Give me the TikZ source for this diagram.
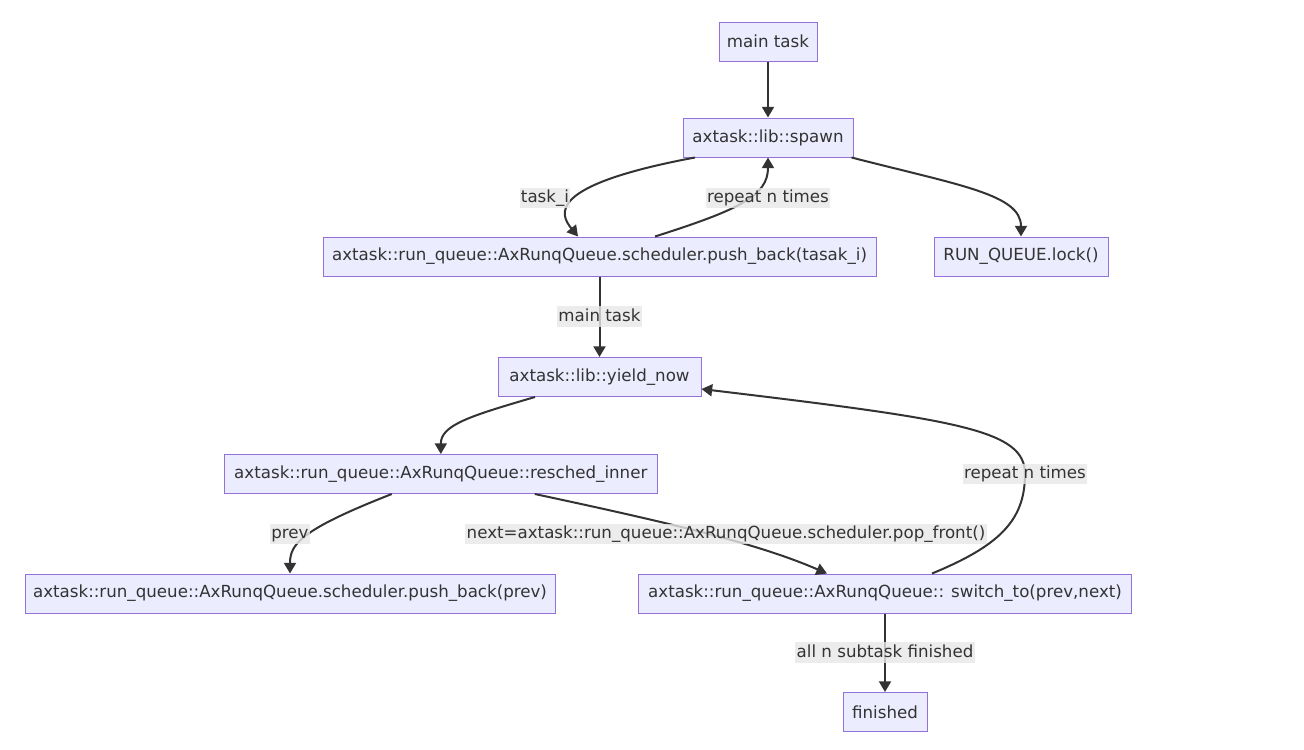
\documentclass[tikz,border=0pt]{standalone}
\usepackage{fontspec}
\setmainfont{DejaVu Sans}
\usetikzlibrary{arrows.meta,calc}
\definecolor{nodefill}{HTML}{ECECFF}
\definecolor{nodeline}{HTML}{9370DB}
\definecolor{ink}{HTML}{333333}
\definecolor{lblbg}{HTML}{E8E8E8}
\begin{document}
\begin{tikzpicture}[x=0.75pt,y=-0.75pt,
  txt/.style={font=\fontsize{12.5}{15}\selectfont},
  box/.style={txt,draw=nodeline,fill=nodefill,line width=0.75pt,text=ink,minimum height=29.25pt,inner sep=0pt},
  arr/.style={draw=ink,line width=1.5pt,-{Triangle[length=8pt,width=9pt]}},
  lbl/.style={txt,fill=lblbg,fill opacity=0.8,text opacity=1,text=ink,inner sep=1pt,text height=10pt,text depth=3.5pt}
]
\useasboundingbox (0,0) rectangle (1304,750);
\fill[white] (0,0) rectangle (1304,750);

\node[box,minimum width=73.5pt] (main) at (768,41.5) {main task};
\node[box,minimum width=127.5pt] (spawn) at (768,137.5) {axtask::lib::spawn};
\node[box,minimum width=414.75pt] (pushA) at (599.5,256.5) {axtask::run\_queue::AxRunqQueue.scheduler.push\_back(tasak\_i)};
\node[box,minimum width=130.5pt] (runq) at (1021,256.5) {RUN\_QUEUE.lock()};
\node[box,minimum width=152.25pt] (yield) at (599.5,377) {axtask::lib::yield\_now};
\node[box,minimum width=324.75pt] (resched) at (440.8,474) {axtask::run\_queue::AxRunqQueue::resched\_inner};
\node[box,minimum width=397.5pt] (pushB) at (290,593.5) {axtask::run\_queue::AxRunqQueue.scheduler.push\_back(prev)};
\node[box,minimum width=369.75pt] (switch) at (885,593.5) {axtask::run\_queue::AxRunqQueue:: switch\_to(prev,next)};
\node[box,minimum width=63pt] (fin) at (885,712) {finished};

% main -> spawn
\draw[arr] (main) -- (spawn);
% spawn -> pushA (task_i)
\draw[arr] ($(spawn.south)+(-73,0)$) .. controls ($(spawn.south)+(-223,28)$) and ($(pushA.north)+(-39.5,-22)$) .. ($(pushA.north)+(-21.5,0)$);
\node[lbl] (lt) at (545,198) {task\_i};
% pushA -> spawn (repeat)
\draw[arr] ($(pushA.north)+(55.5,0)$) .. controls ($(pushA.north)+(140.5,-27)$) and ($(spawn.south)+(0,38)$) .. (spawn.south);
\node[lbl] (lr1) at (768,198) {repeat n times};
% spawn -> runq
\draw[arr] ($(spawn.south east)+(-2,0)$) .. controls ($(spawn.south east)+(107,28)$) and ($(runq.north)+(0,-42)$) .. (runq.north);
% pushA -> yield
\draw[arr] (pushA) -- (yield) node[lbl,midway] (lm) {main task};
% yield -> resched
\draw[arr] ($(yield.south)+(-64.5,0)$) .. controls ($(yield.south)+(-129.5,19)$) and ($(resched.north)+(0,-29)$) .. (resched.north);
% resched -> pushB
\draw[arr] ($(resched.south)+(-49,0)$) .. controls ($(resched.south)+(-141,36)$) and ($(pushB.north)+(0,-29)$) .. (pushB.north);
\node[lbl] (lp) at (290,534) {prev};
% resched -> switch
\draw[arr] ($(resched.south)+(94,0)$) .. controls ($(resched.south)+(239,31)$) and ($(switch.north)+(-125,-29)$) .. ($(switch.north)+(-58,0)$);
\node[lbl] (ln) at (726,534) {next=axtask::run\_queue::AxRunqQueue.scheduler.pop\_front()};
% switch -> yield (repeat)
\coordinate (rp) at (1025,474);
\draw[arr] ($(switch.north)+(47,0)$) .. controls ($(switch.north)+(115,-28)$) and ($(rp)+(0,46)$) .. (rp) .. controls ($(rp)+(0,-44)$) and (960,420) .. ($(yield.east)+(0,12)$);
\node[lbl] (lr2) at (rp) {repeat n times};
% switch -> finished
\draw[arr] (switch) -- (fin) node[lbl,midway] (la) {all n subtask finished};
\end{tikzpicture}
\end{document}
